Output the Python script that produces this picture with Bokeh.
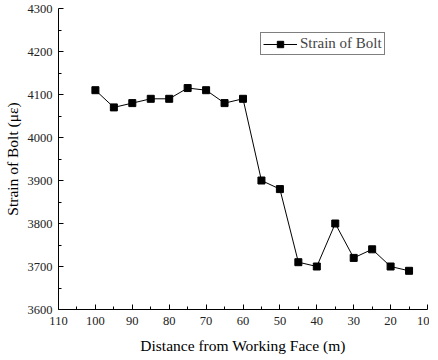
from bokeh.plotting import figure
from bokeh.models import Range1d, FixedTicker, Legend, LegendItem
from bokeh.embed import file_html
from bokeh.resources import INLINE

distance = [100, 95, 90, 85, 80, 75, 70, 65, 60, 55, 50, 45, 40, 35, 30, 25, 20, 15]
strain = [4110, 4070, 4080, 4090, 4090, 4115, 4110, 4080, 4090, 3900, 3880, 3710, 3700, 3800, 3720, 3740, 3700, 3690]
x_ticks = [110, 100, 90, 80, 70, 60, 50, 40, 30, 20, 10]
x_minor = [105, 95, 85, 75, 65, 55, 45, 35, 25, 15]
y_ticks = [3600, 3700, 3800, 3900, 4000, 4100, 4200, 4300]
y_minor = [3650, 3750, 3850, 3950, 4050, 4150, 4250]

FONT = "Liberation Serif"

p = figure(width=429, height=356, output_backend="svg", toolbar_location=None,
           x_range=Range1d(110, 10), y_range=Range1d(3600, 4300),
           min_border_left=49, min_border_right=2, min_border_top=8, min_border_bottom=47)
p.outline_line_color = None
p.grid.visible = False
p.background_fill_color = "white"
p.border_fill_color = "white"

for ax, ticks, minor in ((p.xaxis[0], x_ticks, x_minor), (p.yaxis[0], y_ticks, y_minor)):
    ax.ticker = FixedTicker(ticks=ticks, minor_ticks=minor)
    ax.major_tick_in = 5
    ax.major_tick_out = 0
    ax.minor_tick_in = 3
    ax.minor_tick_out = 0
    ax.axis_line_color = "black"
    ax.major_tick_line_color = "black"
    ax.minor_tick_line_color = "black"
    ax.major_label_text_font = FONT
    ax.major_label_text_font_size = "12.5px"
    ax.major_label_text_color = "#222222"
    ax.axis_label_text_font = FONT
    ax.axis_label_text_font_size = "15.5px"
    ax.axis_label_text_font_style = "normal"
    ax.axis_label_text_color = "black"

p.xaxis.axis_label = "Distance from Working Face (m)"
p.yaxis.axis_label = "Strain of Bolt (με)"
p.xaxis.major_label_standoff = 7
p.xaxis.axis_label_standoff = 9
p.yaxis.major_label_standoff = 6
p.yaxis.axis_label_standoff = 4

ln = p.line(distance, strain, line_color="black", line_width=1)
sq = p.scatter(distance, strain, marker="square", size=7, fill_color="black", line_color="black")

legend = Legend(items=[LegendItem(label="Strain of Bolt", renderers=[ln, sq])],
                location=(202, 254))
legend.label_text_font = FONT
legend.label_text_font_size = "15px"
legend.border_line_color = "black"
legend.border_line_width = 1
legend.background_fill_alpha = 1
legend.padding = 2
legend.margin = 0
legend.glyph_width = 34
legend.glyph_height = 16
legend.label_standoff = 3
legend.label_height = 16
p.add_layout(legend, "center")

open("out.html", "w").write(file_html(p, INLINE))
